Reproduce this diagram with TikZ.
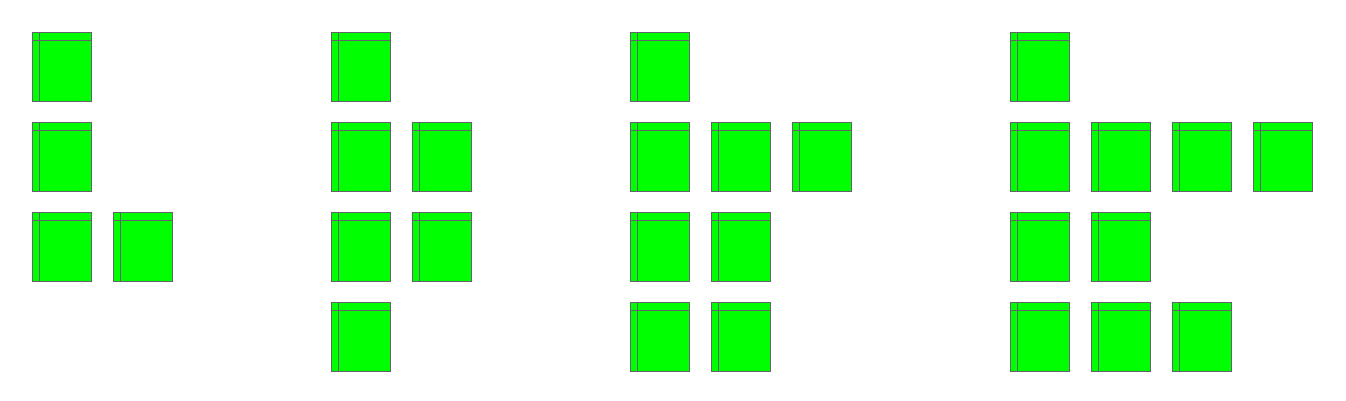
\documentclass[tikz,border=0pt]{standalone}
\usepackage{tikz}
\def\colsep{81}
\def\rowsep{90}
\definecolor{cellfill}{RGB}{0,255,0}
\definecolor{celledge}{RGB}{100,98,108}

\begin{document}
\begin{tikzpicture}[x=1pt, y=-1pt]
  \tikzstyle{cell}=[rectangle,draw=celledge,fill=cellfill,line width=1.5pt,
    minimum width=59pt,minimum height=69pt,inner sep=0pt,outer sep=0pt]
  \tikzstyle{rule}=[draw=celledge,line width=1.5pt]

  \useasboundingbox (0,0) rectangle (1346,400);

  \foreach \name / \gx / \cells in {A/32/{1/1,2/1,3/1,3/2},
      B/331/{1/1,2/1,2/2,3/1,3/2,4/1},
      C/630/{1/1,2/1,2/2,2/3,3/1,3/2,4/1,4/2},
      D/1010/{1/1,2/1,2/2,2/3,2/4,3/1,3/2,4/1,4/2,4/3}}
    \foreach \r / \c in \cells {
      \node[cell] (\name-\r-\c) at (\gx+\c*\colsep-\colsep+30, \r*\rowsep-\rowsep+67) {};
      \path[rule] ([xshift=7pt]\name-\r-\c.north west) -- ([xshift=7pt]\name-\r-\c.south west);
      \path[rule] ([yshift=-8pt]\name-\r-\c.north west) -- ([yshift=-8pt]\name-\r-\c.north east);
    }
\end{tikzpicture}
\end{document}
